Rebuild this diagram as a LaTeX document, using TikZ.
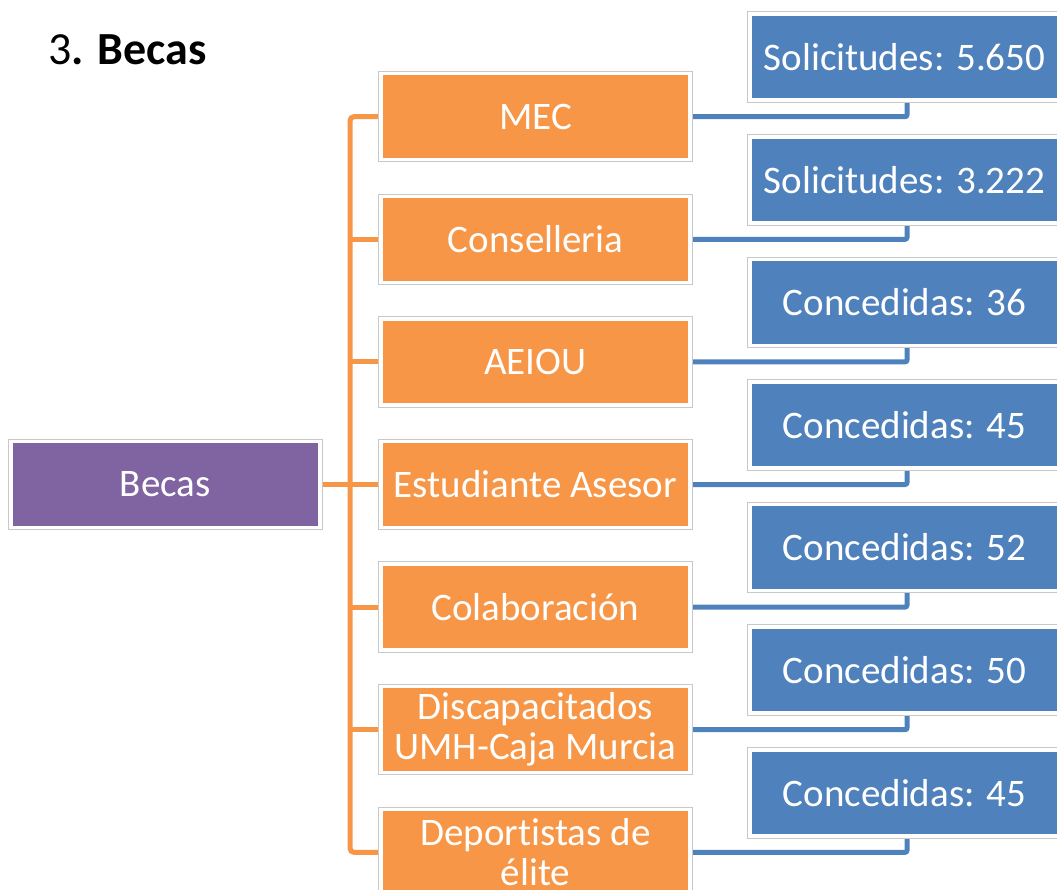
\documentclass[tikz,border=0pt]{standalone}
\usepackage{fontspec}
\setmainfont{Carlito}[Ligatures=NoCommon]
\usetikzlibrary{backgrounds}
\definecolor{orgF}{HTML}{F79646}
\definecolor{purF}{HTML}{8064A2}
\definecolor{bluF}{HTML}{4F81BD}
\definecolor{frameG}{HTML}{C8C8C8}
\tikzset{
  box/.style={rectangle, minimum width=309pt, minimum height=86pt, inner sep=0pt,
    preaction={draw=frameG, line width=5.5pt}, draw=white, line width=3.5pt,
    text=white, align=center, font=\fontsize{39}{40}\selectfont},
  obox/.style={box, fill=orgF},
  pbox/.style={box, fill=purF},
  bbox/.style={box, fill=bluF},
  oline/.style={draw=orgF, line width=5pt},
  bline/.style={draw=bluF, line width=5pt},
}
\begin{document}
\begin{tikzpicture}[x=1pt,y=-1pt]
\useasboundingbox (0,0) rectangle (1057,890);
\clip (0,0) rectangle (1057,890);
\node[anchor=base west, inner sep=0pt, font=\fontsize{46}{48}\selectfont] (title) at (48,65) {3\textbf{. Becas}};
\node[pbox] (becas) at (165.3,484.5) {Becas};
\node[obox] (o1) at (535.5,116.7) {MEC};
\node[obox] (o2) at (535.5,239.3) {Conselleria};
\node[obox] (o3) at (535.5,361.9) {AEIOU};
\node[obox] (o4) at (535.5,484.5) {Estudiante Asesor};
\node[obox] (o5) at (535.5,607.1) {Colaboración};
\node[obox] (o6) at (535.5,729.7) {Discapacitados\\UMH-Caja Murcia};
\node[obox] (o7) at (535.5,852.3) {Deportistas de\\élite};
\node[bbox] (b1) at (904.5,57.2) {Solicitudes: 5.650};
\node[bbox] (b2) at (904.5,179.8) {Solicitudes: 3.222};
\node[bbox] (b3) at (904.5,302.4) {Concedidas: 36};
\node[bbox] (b4) at (904.5,425.0) {Concedidas: 45};
\node[bbox] (b5) at (904.5,547.6) {Concedidas: 52};
\node[bbox] (b6) at (904.5,670.2) {Concedidas: 50};
\node[bbox] (b7) at (904.5,792.8) {Concedidas: 45};
\coordinate (trunk) at (350,0);
\begin{scope}[on background layer]
\draw[oline, rounded corners=4pt] (o1.west) -- (o1.west -| trunk) -- (o7.west -| trunk) -- (o7.west);
\draw[oline] (becas.east) -- (o4.west);
\foreach \i in {2,3,5,6} {\draw[oline] (o\i.west -| trunk) -- (o\i.west);}
\foreach \i in {1,...,7} {\draw[bline, rounded corners=2pt] (o\i.east) -| ([xshift=2.5pt]b\i.south);}
\end{scope}
\end{tikzpicture}
\end{document}
